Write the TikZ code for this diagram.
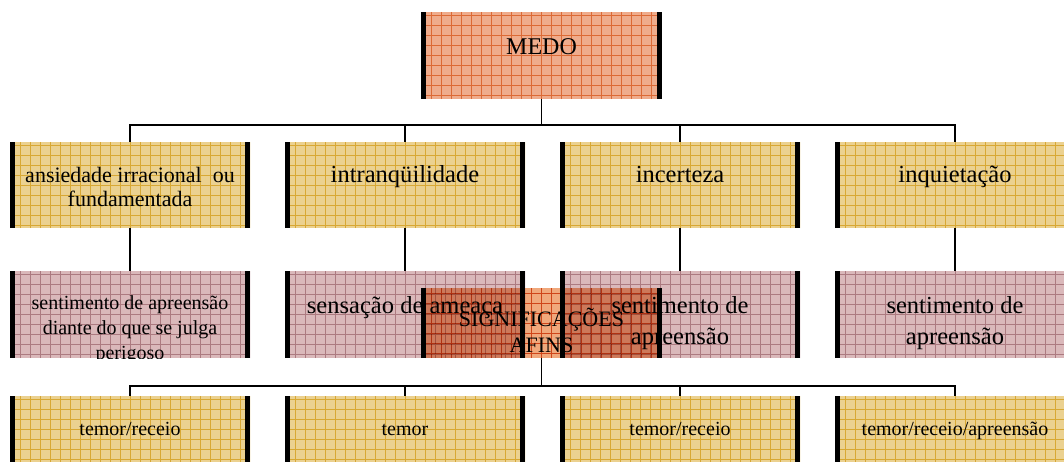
\documentclass[tikz,border=0pt]{standalone}
\usepackage{fontspec}
\setmainfont{Liberation Serif}
\usetikzlibrary{positioning}
\definecolor{medofill}{HTML}{EFAC8C}
\definecolor{medoline}{HTML}{DC6A35}
\definecolor{afinsfill}{HTML}{F0A87C}
\definecolor{amarfill}{HTML}{EBD190}
\definecolor{amarline}{HTML}{D8A834}
\definecolor{rosafill}{HTML}{DAB8BA}
\definecolor{rosaline}{HTML}{AC7A80}
\newcommand{\topstrut}{\rule{0pt}{1em}}
\tikzset{
  caixa/.style 2 args={fill=#1, inner sep=0pt, minimum width=180pt, minimum height=64.5pt,
    path picture={
      \draw[#2, line width=0.45pt, step=7.5pt] (path picture bounding box.south west) grid (path picture bounding box.north east);
      \fill[black] (path picture bounding box.south west) rectangle ([xshift=3.75pt]path picture bounding box.north west);
      \fill[black] ([xshift=-3.75pt]path picture bounding box.south east) rectangle (path picture bounding box.north east);
    }},
  texto/.style={inner sep=0pt, align=center, font=\fontsize{18.4}{23.25}\selectfont},
  textop/.style={inner sep=0pt, align=center, font=\fontsize{15}{18.75}\selectfont},
  ligacao/.style={line width=1.4pt}
}
\begin{document}
\begin{tikzpicture}[x=0.75pt,y=0.75pt]
  \useasboundingbox (0,0) rectangle (1064,-461);
  \clip (0,0) rectangle (1064,-461);
  % topo
  \node[caixa={medofill}{medoline}, minimum width=180.75pt, minimum height=65.25pt] (medo) at (541.5,-55.5) {};
  \node[texto, font=\fontsize{18}{22}\selectfont, below=13.5pt of medo.north] (medotxt) {\topstrut MEDO};
  % primeira linha
  \node[caixa={amarfill}{amarline}] (ansiedade) at (130,-185) {};
  \node[caixa={amarfill}{amarline}] (intranq) at (405,-185) {};
  \node[caixa={amarfill}{amarline}] (incerteza) at (680,-185) {};
  \node[caixa={amarfill}{amarline}] (inquietacao) at (955,-185) {};
  \node[texto, font=\fontsize{16.5}{18}\selectfont, below=13.5pt of ansiedade.north] (ansiedadetxt) {\topstrut ansiedade irracional~ ou\\fundamentada};
  \node[texto, below=11.6pt of intranq.north] (intranqtxt) {\topstrut intranqüilidade};
  \node[texto, below=11.6pt of incerteza.north] (incertezatxt) {\topstrut incerteza};
  \node[texto, below=11.6pt of inquietacao.north] (inquietacaotxt) {\topstrut inquietação};
  \coordinate (barra1) at (541,-125);
  \draw[ligacao] (medo.south) -- (medo.south |- barra1);
  \draw[ligacao] (ansiedade.north) |- (barra1) -| (inquietacao.north);
  \draw[ligacao] (intranq.north) -- (intranq.north |- barra1);
  \draw[ligacao] (incerteza.north) -- (incerteza.north |- barra1);
  % segunda linha
  \node[caixa={rosafill}{rosaline}, minimum height=65.25pt] (apreensao) at (130,-314.5) {};
  \node[caixa={rosafill}{rosaline}, minimum height=65.25pt] (ameaca) at (405,-314.5) {};
  \node[caixa={rosafill}{rosaline}, minimum height=65.25pt] (sentimento) at (680,-314.5) {};
  \node[caixa={rosafill}{rosaline}, minimum height=65.25pt] (sentimentob) at (955,-314.5) {};
  \begin{scope}
    \clip (apreensao.south west) rectangle (apreensao.north east);
    \node[textop, below=13.5pt of apreensao.north] (apreensaotxt) {\topstrut sentimento de apreensão\\diante do que se julga\\perigoso};
  \end{scope}
  \node[texto, below=13.5pt of ameaca.north] (ameacatxt) {\topstrut sensação de ameaça};
  \node[texto, below=13.5pt of sentimento.north] (sentimentotxt) {\topstrut sentimento de\\apreensão};
  \node[texto, below=13.5pt of sentimentob.north] (sentimentobtxt) {\topstrut sentimento de\\apreensão};
  \draw[ligacao] (ansiedade.south) -- (apreensao.north);
  \draw[ligacao] (intranq.south) -- (ameaca.north);
  \draw[ligacao] (incerteza.south) -- (sentimento.north);
  \draw[ligacao] (inquietacao.south) -- (sentimentob.north);
  % significacoes afins
  \begin{scope}[blend mode=multiply]
    \node[caixa={afinsfill}{medoline}, minimum width=180.75pt, minimum height=52.5pt] (afins) at (541.5,-323) {};
  \end{scope}
  \node[texto, font=\fontsize{16.5}{19.5}\selectfont, below=12pt of afins.north] (afinstxt) {\topstrut SIGNIFICAÇÕES\\AFINS};
  % terceira linha
  \node[caixa={amarfill}{amarline}] (temor) at (130,-439) {};
  \node[caixa={amarfill}{amarline}] (temorb) at (405,-439) {};
  \node[caixa={amarfill}{amarline}] (temorc) at (680,-439) {};
  \node[caixa={amarfill}{amarline}] (temord) at (955,-439) {};
  \node[textop, below=14.25pt of temor.north] (temortxt) {\topstrut temor/receio};
  \node[textop, below=14.25pt of temorb.north] (temorbtxt) {\topstrut temor};
  \node[textop, below=14.25pt of temorc.north] (temorctxt) {\topstrut temor/receio};
  \node[textop, below=14.25pt of temord.north] (temordtxt) {\topstrut temor/receio/apreensão};
  \coordinate (barra2) at (541,-386);
  \draw[ligacao, line width=1.2pt] (afins.south) -- (afins.south |- barra2);
  \draw[ligacao, line width=1.2pt] (temor.north) |- (barra2) -| (temord.north);
  \draw[ligacao, line width=1.2pt] (temorb.north) -- (temorb.north |- barra2);
  \draw[ligacao, line width=1.2pt] (temorc.north) -- (temorc.north |- barra2);
\end{tikzpicture}
\end{document}
